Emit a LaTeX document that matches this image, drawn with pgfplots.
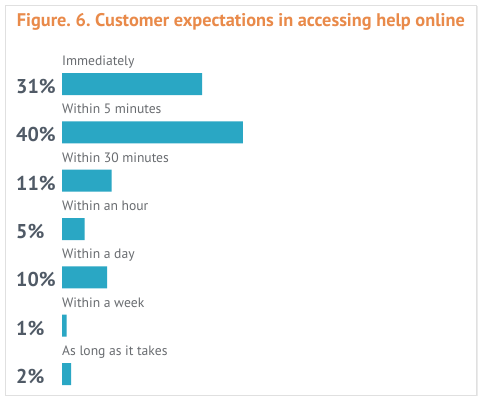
\documentclass[border=0pt]{standalone}
\usepackage{pgfplots}
\pgfplotsset{compat=1.18}
\usepackage{fontspec}
\setmainfont{PT Sans}
\frenchspacing
\definecolor{barc}{RGB}{42,167,196}
\definecolor{titlec}{RGB}{233,138,74}
\definecolor{pctc}{RGB}{80,90,102}
\definecolor{labc}{RGB}{105,108,112}
\begin{document}
\begin{tikzpicture}[x=1pt,y=1pt]
\fill[white] (0,0) rectangle (481,398);
\fill[black!8] (6.5,1.5) rectangle (477.5,392);
\filldraw[draw=black!12,fill=white] (5,3) rectangle (476,393);
\node[anchor=base west,inner sep=0,text=titlec,font=\fontsize{18.3}{20}\selectfont\bfseries] at (16.7,371.3) {Figure. 6. Customer expectations in accessing help online};
\begin{axis}[
  at={(62pt,-0.2pt)}, anchor=south west,
  scale only axis, width=180.8pt, height=338.33pt,
  xmin=0, xmax=40, ymin=-0.5, ymax=6.5,
  axis lines=none, clip=false,
  xbar, bar width=22pt, bar shift=0pt,
]
\addplot[fill=barc,draw=none] coordinates {(31,6) (40,5) (11,4) (5,3) (10,2) (1,1) (2,0)};
\begin{scope}[every node/.style={inner sep=0}]
\foreach \y/\t/\p in {6/Immediately/31, 5/Within 5 minutes/40, 4/Within 30 minutes/11, 3/Within an hour/5, 2/Within a day/10, 1/Within a week/1, 0/As long as it takes/2}{
  \edef\tmp{\noexpand\node[anchor=base west,text=labc,font=\noexpand\fontsize{13.6}{15}\noexpand\selectfont,yshift=18.5pt] at (axis cs:0,\y) {\t};
  \noexpand\node[anchor=base west,text=pctc,font=\noexpand\fontsize{20}{22}\noexpand\selectfont\noexpand\bfseries,xshift=-46pt,yshift=-9.5pt] at (axis cs:0,\y) {\p\noexpand\%};}
  \tmp
}
\end{scope}
\end{axis}
\pgfresetboundingbox
\useasboundingbox (0,0) rectangle (481,398);
\end{tikzpicture}
\end{document}
